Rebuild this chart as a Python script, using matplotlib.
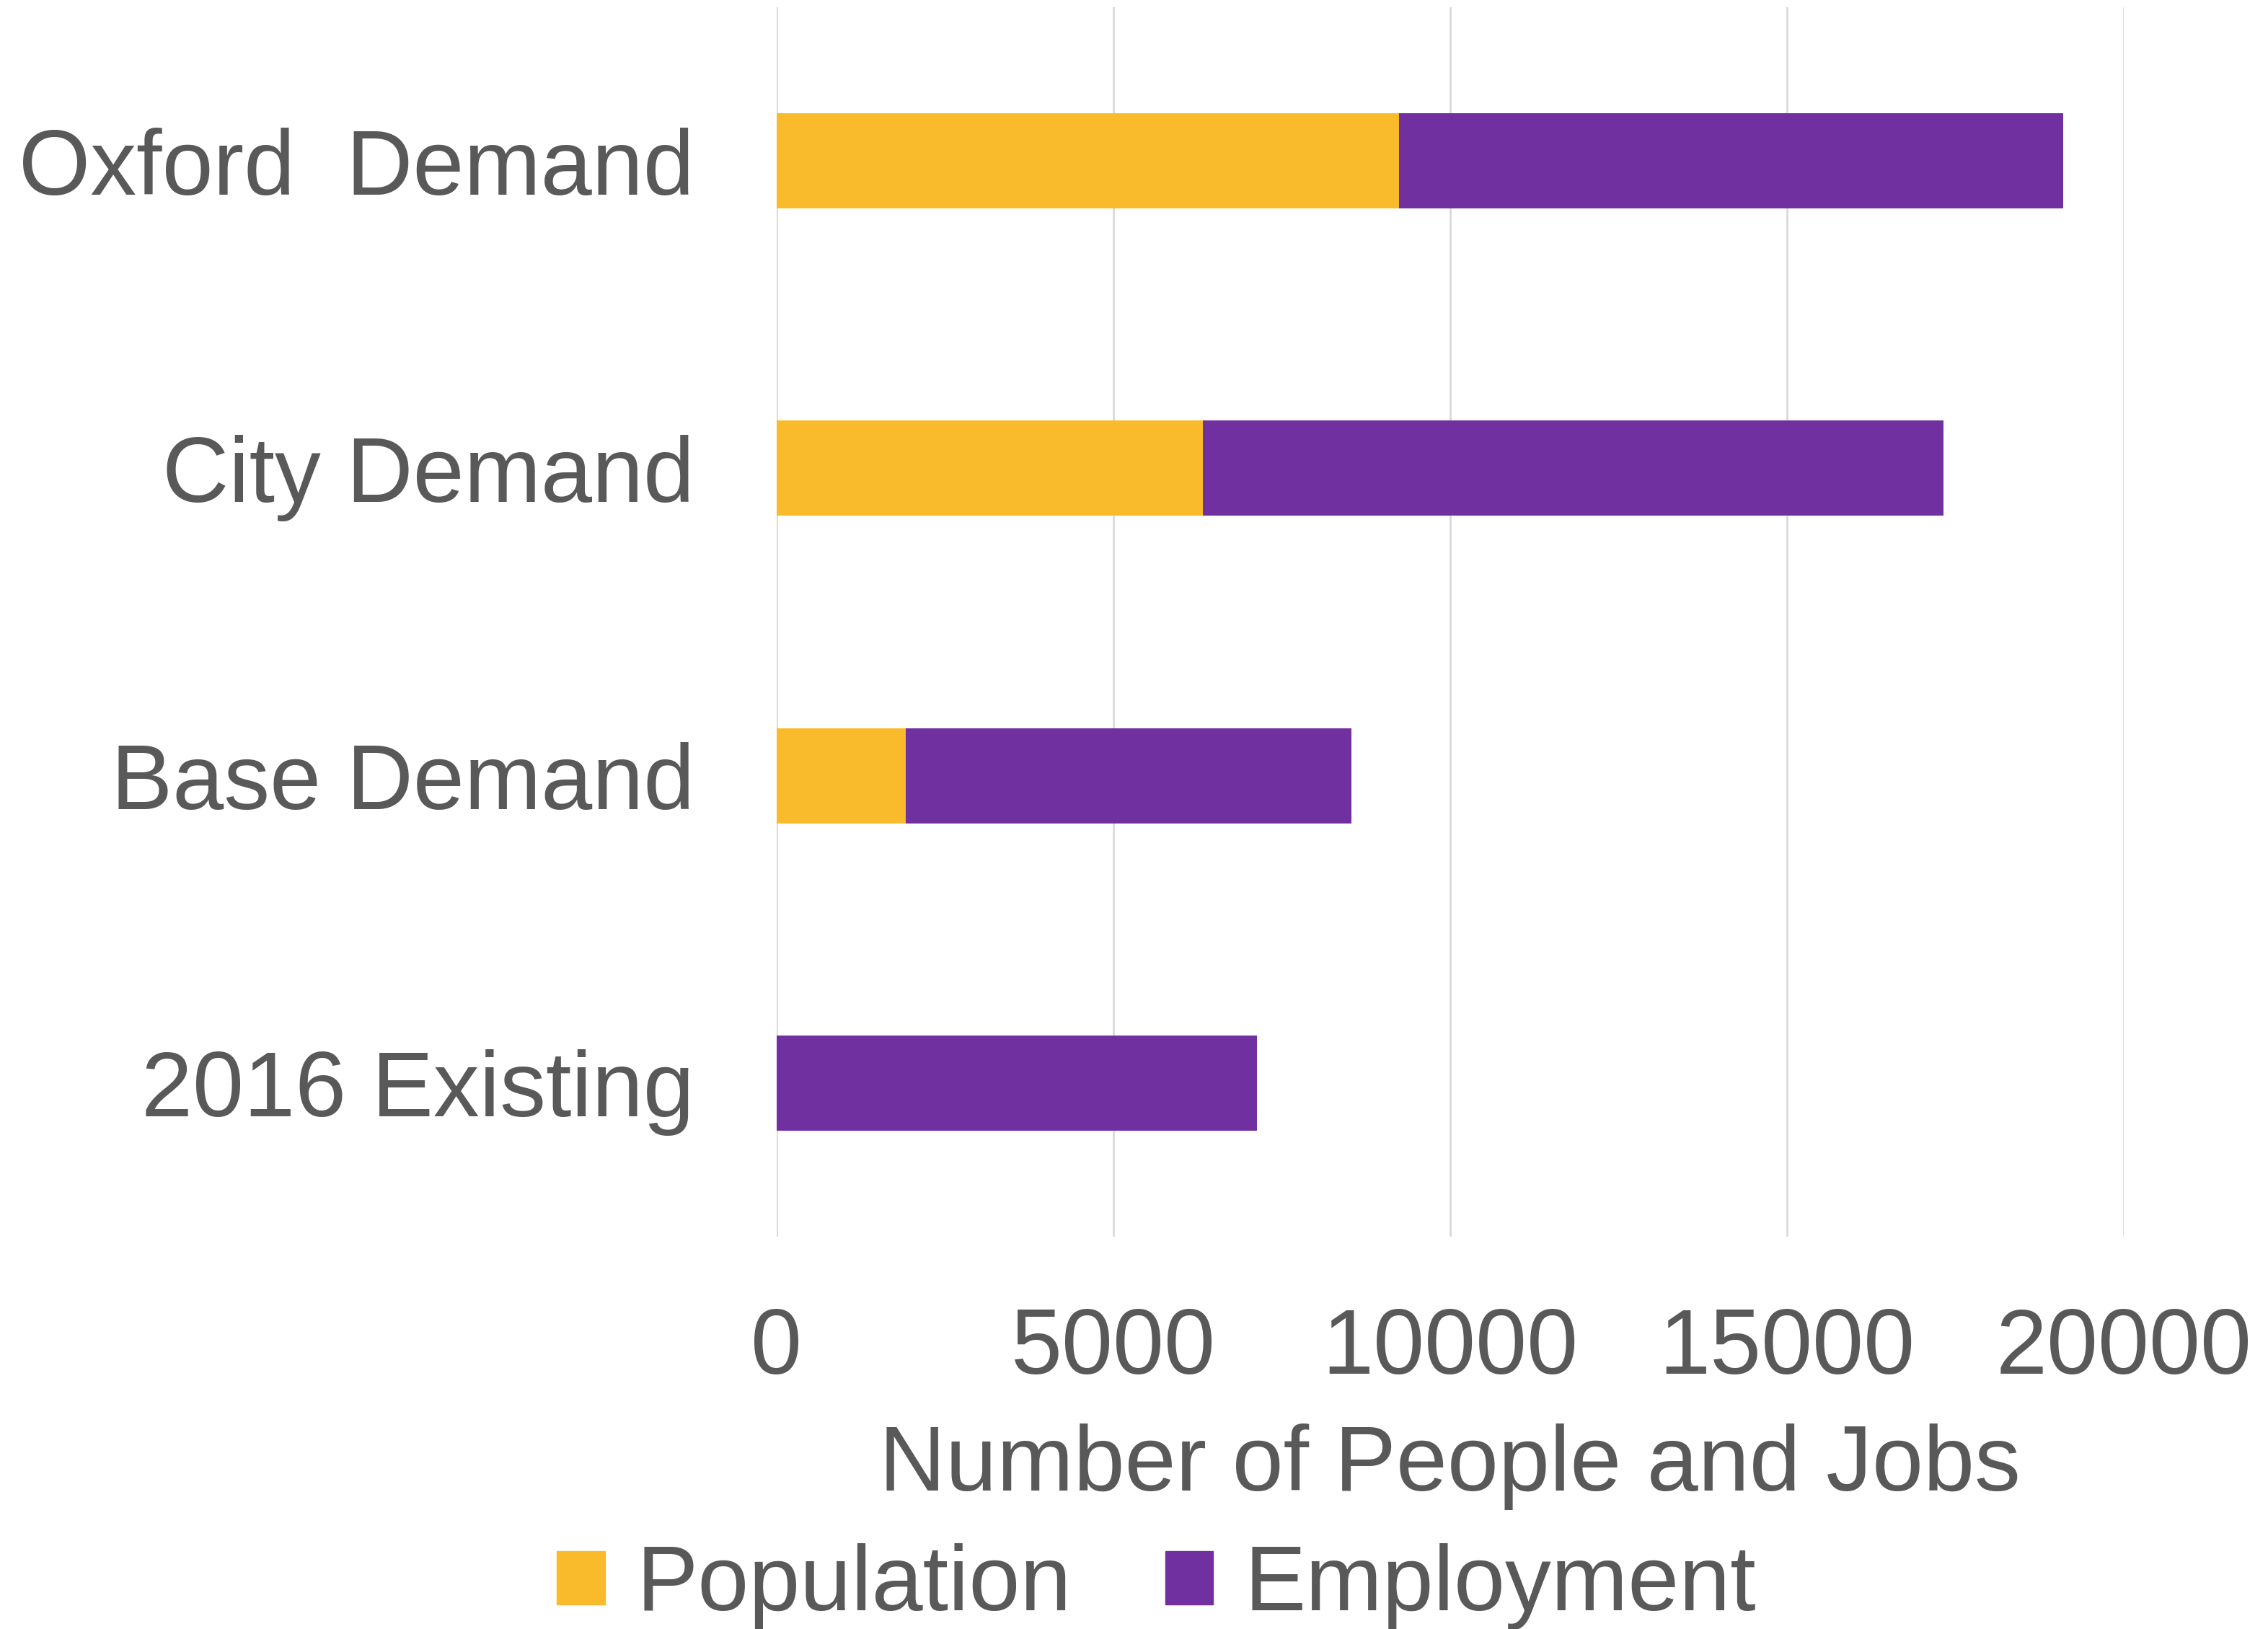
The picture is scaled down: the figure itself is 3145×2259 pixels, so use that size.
import matplotlib.pyplot as plt
from matplotlib.patches import Patch

# categories bottom to top
categories = ["2016 Existing", "Base Demand", "City Demand", "Oxford  Demand"]
population = [0, 1920, 6330, 9240]
employment = [7130, 6610, 10990, 9860]
xticks = [0, 5000, 10000, 15000, 20000]

pop_color = "#F9BB2C"
emp_color = "#7030A0"
text_color = "#595959"

plt.rcParams['font.family'] = ['Liberation Sans', 'DejaVu Sans']

fig = plt.figure(figsize=(31.45, 22.59), dpi=100)
ax = fig.add_axes([0.3424, 0.2408, 0.594, 0.7548])

ypos = list(range(len(categories)))
ax.barh(ypos, population, height=0.31, color=pop_color, zorder=3)
ax.barh(ypos, employment, left=population, height=0.31, color=emp_color, zorder=3)

ax.set_xlim(0, 20000)
ax.set_ylim(-0.5, 3.5)
ax.set_xticks(xticks)
ax.set_xticklabels([str(t) for t in xticks])
ax.set_yticks(ypos)
ax.set_yticklabels(categories)
ax.tick_params(axis='both', length=0, labelsize=92, colors=text_color)
ax.tick_params(axis='y', pad=82)
ax.tick_params(axis='x', pad=70)
for s in ax.spines.values():
    s.set_visible(False)
ax.grid(axis='x', color='#D9D9D9', linewidth=2, zorder=0)
ax.set_xlabel("Number of People and Jobs", fontsize=92, color=text_color, labelpad=30)

handles = [Patch(color=pop_color, label="Population"),
           Patch(color=emp_color, label="Employment")]
fig.legend(handles=handles, loc='center', bbox_to_anchor=(0.51, 0.026), ncol=2,
           frameon=False, fontsize=92, labelcolor=text_color,
           handlelength=0.52, handleheight=0.52, handletextpad=0.34,
           columnspacing=1.02, borderpad=0, borderaxespad=0)

fig.savefig("out.png", dpi=100)
